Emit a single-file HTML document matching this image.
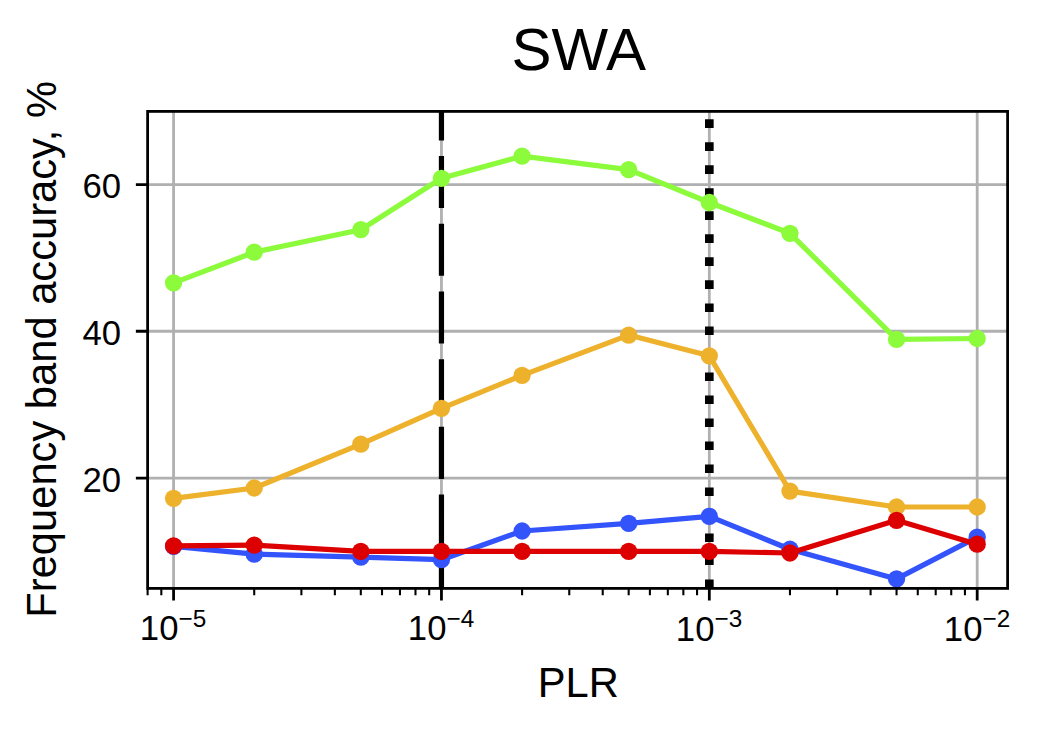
<!DOCTYPE html>
<html><head><meta charset="utf-8"><title>SWA</title>
<style>html,body{margin:0;padding:0;background:#fff;font-family:"Liberation Sans",sans-serif}svg{display:block}</style>
</head><body><svg width="1043" height="730" viewBox="0 0 1043 730"><rect x="0" y="0" width="1043" height="730" fill="#fff"/><defs><clipPath id="ax"><rect x="147.62" y="111.4" width="859.98" height="477"/></clipPath></defs><path d="M173.58 111.4V588.4M441.45 111.4V588.4M709.32 111.4V588.4M977.19 111.4V588.4M147.62 478.1H1007.6M147.62 331.25H1007.6M147.62 184.55H1007.6" stroke="#b0b0b0" stroke-width="2.78" fill="none"/><path d="M173.58 588.4v12.15M441.45 588.4v12.15M709.32 588.4v12.15M977.19 588.4v12.15M147.62 478.1h-11.75M147.62 331.25h-11.75M147.62 184.55h-11.75" stroke="#000" stroke-width="2.78" fill="none"/><path d="M147.62 588.4v6.94M161.32 588.4v6.94M254.22 588.4v6.94M301.39 588.4v6.94M334.85 588.4v6.94M360.81 588.4v6.94M382.02 588.4v6.94M399.96 588.4v6.94M415.49 588.4v6.94M429.19 588.4v6.94M522.09 588.4v6.94M569.26 588.4v6.94M602.72 588.4v6.94M628.68 588.4v6.94M649.89 588.4v6.94M667.83 588.4v6.94M683.36 588.4v6.94M697.06 588.4v6.94M789.96 588.4v6.94M837.13 588.4v6.94M870.59 588.4v6.94M896.55 588.4v6.94M917.76 588.4v6.94M935.7 588.4v6.94M951.23 588.4v6.94M964.93 588.4v6.94" stroke="#000" stroke-width="2.08" fill="none"/><g clip-path="url(#ax)"><path d="M441.45 72.69V20.61M441.45 140.4V88.32M441.45 208.11V156.03M441.45 275.82V223.73M441.45 343.53V291.44M441.45 411.23V359.15M441.45 478.94V426.86M441.45 546.65V494.57M441.45 614.36V562.27" stroke="#000" stroke-width="5.21" fill="none"/><path d="M709.32 96.35V105.03M709.32 119.35V128.03M709.32 142.35V151.03M709.32 165.36V174.04M709.32 188.36V197.04M709.32 211.36V220.04M709.32 234.37V243.05M709.32 257.37V266.05M709.32 280.37V289.05M709.32 303.38V312.06M709.32 326.38V335.06M709.32 349.38V358.07M709.32 372.39V381.07M709.32 395.39V404.07M709.32 418.4V427.08M709.32 441.4V450.08M709.32 464.4V473.08M709.32 487.41V496.09M709.32 510.41V519.09M709.32 533.41V542.09M709.32 556.42V565.1M709.32 579.42V588.1" stroke="#000" stroke-width="8.68" fill="none"/><polyline points="173.58,282.9 254.22,252.2 360.81,229.7 441.45,178.3 522.09,156.2 628.68,169.7 709.32,202.5 789.96,233.3 896.55,339.4 977.19,338.5" fill="none" stroke="#8cfb3c" stroke-width="5.21" stroke-linejoin="round" stroke-linecap="butt"/><g fill="#8cfb3c"><circle cx="173.58" cy="282.9" r="8.65"/><circle cx="254.22" cy="252.2" r="8.65"/><circle cx="360.81" cy="229.7" r="8.65"/><circle cx="441.45" cy="178.3" r="8.65"/><circle cx="522.09" cy="156.2" r="8.65"/><circle cx="628.68" cy="169.7" r="8.65"/><circle cx="709.32" cy="202.5" r="8.65"/><circle cx="789.96" cy="233.3" r="8.65"/><circle cx="896.55" cy="339.4" r="8.65"/><circle cx="977.19" cy="338.5" r="8.65"/></g><polyline points="173.58,498.3 254.22,488 360.81,444.2 441.45,408.35 522.09,375.35 628.68,335.1 709.32,355.8 789.96,491.05 896.55,507 977.19,507" fill="none" stroke="#edb12c" stroke-width="5.21" stroke-linejoin="round" stroke-linecap="butt"/><g fill="#edb12c"><circle cx="173.58" cy="498.3" r="8.65"/><circle cx="254.22" cy="488" r="8.65"/><circle cx="360.81" cy="444.2" r="8.65"/><circle cx="441.45" cy="408.35" r="8.65"/><circle cx="522.09" cy="375.35" r="8.65"/><circle cx="628.68" cy="335.1" r="8.65"/><circle cx="709.32" cy="355.8" r="8.65"/><circle cx="789.96" cy="491.05" r="8.65"/><circle cx="896.55" cy="507" r="8.65"/><circle cx="977.19" cy="507" r="8.65"/></g><polyline points="173.58,546.3 254.22,554.2 360.81,557.2 441.45,559.7 522.09,531 628.68,523.4 709.32,516.3 789.96,549.25 896.55,578.9 977.19,537.15" fill="none" stroke="#3353fb" stroke-width="5.21" stroke-linejoin="round" stroke-linecap="butt"/><g fill="#3353fb"><circle cx="173.58" cy="546.3" r="8.65"/><circle cx="254.22" cy="554.2" r="8.65"/><circle cx="360.81" cy="557.2" r="8.65"/><circle cx="441.45" cy="559.7" r="8.65"/><circle cx="522.09" cy="531" r="8.65"/><circle cx="628.68" cy="523.4" r="8.65"/><circle cx="709.32" cy="516.3" r="8.65"/><circle cx="789.96" cy="549.25" r="8.65"/><circle cx="896.55" cy="578.9" r="8.65"/><circle cx="977.19" cy="537.15" r="8.65"/></g><polyline points="173.58,545.9 254.22,545.1 360.81,551.3 441.45,551.3 522.09,551.4 628.68,551.4 709.32,551.4 789.96,553 896.55,520.3 977.19,544.2" fill="none" stroke="#dc0000" stroke-width="5.21" stroke-linejoin="round" stroke-linecap="butt"/><g fill="#dc0000"><circle cx="173.58" cy="545.9" r="8.65"/><circle cx="254.22" cy="545.1" r="8.65"/><circle cx="360.81" cy="551.3" r="8.65"/><circle cx="441.45" cy="551.3" r="8.65"/><circle cx="522.09" cy="551.4" r="8.65"/><circle cx="628.68" cy="551.4" r="8.65"/><circle cx="709.32" cy="551.4" r="8.65"/><circle cx="789.96" cy="553" r="8.65"/><circle cx="896.55" cy="520.3" r="8.65"/><circle cx="977.19" cy="544.2" r="8.65"/></g></g><rect x="147.62" y="111.4" width="859.98" height="477" fill="none" stroke="#000" stroke-width="2.78" stroke-linejoin="miter"/><g font-family="'Liberation Sans', 'DejaVu Sans', sans-serif" fill="#000"><text x="578.8" y="69.75" font-size="60" text-anchor="middle">SWA</text><text x="578.3" y="696.85" font-size="41.7" text-anchor="middle">PLR</text><text transform="translate(56 349.3) rotate(-90)" x="0" y="0" font-size="41.7" text-anchor="middle">Frequency band accuracy, %</text><text x="121" y="491.89" font-size="34.7" text-anchor="end">20</text><text x="121" y="344.74" font-size="34.7" text-anchor="end">40</text><text x="121" y="198.04" font-size="34.7" text-anchor="end">60</text><text x="173" y="639.51" font-size="34.7" text-anchor="middle">10<tspan dy="-12.5" font-size="24.3">−5</tspan></text><text x="441" y="639.51" font-size="34.7" text-anchor="middle">10<tspan dy="-12.5" font-size="24.3">−4</tspan></text><text x="709" y="640.68" font-size="34.7" text-anchor="middle">10<tspan dy="-13.5" font-size="24.3">−3</tspan></text><text x="977" y="640.68" font-size="34.7" text-anchor="middle">10<tspan dy="-13.5" font-size="24.3">−2</tspan></text></g></svg></body></html>
